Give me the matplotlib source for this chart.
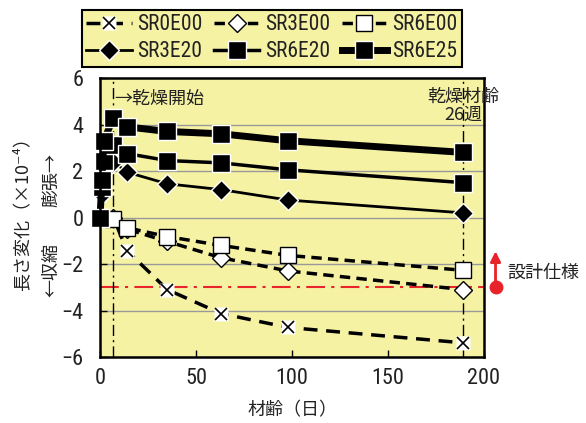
import matplotlib
matplotlib.use("Agg")
import matplotlib.pyplot as plt
from matplotlib.legend_handler import HandlerTuple

# ---- data ----
days_early = [0, 1, 2, 7, 14, 35, 63, 98, 189]
sr6e25 = [0, 1.6, 3.3, 4.3, 3.9, 3.7, 3.6, 3.3, 2.8]
sr6e20 = [0, 1.3, 2.45, 3.1, 2.75, 2.45, 2.35, 2.05, 1.5]
sr3e20 = [0, 1.0, 2.0, 2.4, 1.95, 1.45, 1.2, 0.75, 0.2]

days = [0, 7, 14, 35, 63, 98, 189]
sr0e00 = [0, 0, -1.42, -3.1, -4.13, -4.73, -5.39]
sr3e00 = [0, 0, -0.5, -1.03, -1.73, -2.3, -3.1]
sr6e00 = [0, -0.05, -0.44, -0.82, -1.2, -1.63, -2.27]

spec_value = -3.0
drying_start = 7
drying_end = 189
xticks = [0, 50, 100, 150, 200]
yticks = [-6, -4, -2, 0, 2, 4, 6]

NUM = ['Roboto Condensed', 'Noto Sans CJK JP', 'DejaVu Sans']
CJK = ['Noto Sans CJK JP', 'DejaVu Sans']
plt.rcParams['font.family'] = NUM

YEL = '#F6F2A4'
RED = '#E8232B'
TXT = '#222222'

fig = plt.figure(figsize=(5.86, 4.23), dpi=100)
ax = fig.add_axes([100/586, 1-357/423, 384/586, 279/423])
ax.set_facecolor(YEL)
ax.set_xlim(0, 200)
ax.set_ylim(-6, 6)

for y in [-4, -2, 0, 2, 4]:
    ax.axhline(y, color='#999999', lw=1.0, zorder=1)
ax.axhline(spec_value, color=RED, lw=1.5, ls=(0, (9, 3, 1.5, 3)), zorder=2)
ax.axvline(drying_start, color='k', lw=1.0, ls=(0, (8, 3, 1.5, 3)), zorder=2)
ax.axvline(drying_end, color='k', lw=1.0, ls=(0, (8, 3, 1.5, 3)), zorder=2)

# dashed series
l0, = ax.plot(days, sr0e00, color='k', lw=2.5, ls=(0, (4, 2.5)), zorder=3)
w0, = ax.plot(days, sr0e00, ls='none', marker='s', ms=10, mfc='white', mec='none',
              zorder=3.1, clip_on=False)
x0, = ax.plot(days, sr0e00, ls='none', marker='x', ms=8, mec='k', mew=1.2,
              zorder=3.2, clip_on=False)

l3, = ax.plot(days, sr3e00, color='k', lw=2.5, ls=(0, (3, 1.8)), marker='D', ms=9,
              mfc='white', mec='k', mew=1.0, zorder=4, clip_on=False)
l6, = ax.plot(days, sr6e00, color='k', lw=2.5, ls=(0, (3, 1.8)), marker='s', ms=11,
              mfc='white', mec='k', mew=1.0, zorder=4.5, clip_on=False)

# solid series
s3, = ax.plot(days_early, sr3e20, color='k', lw=2.0, marker='D', ms=10,
              mfc='k', mec='white', mew=1.0, zorder=6, clip_on=False)
s6, = ax.plot(days_early, sr6e20, color='k', lw=2.5, marker='s', ms=13,
              mfc='k', mec='white', mew=1.0, zorder=7, clip_on=False)
s25, = ax.plot(days_early, sr6e25, color='k', lw=5.0, marker='s', ms=13,
               mfc='k', mec='white', mew=1.0, zorder=8, clip_on=False)

for sp in ax.spines.values():
    sp.set_linewidth(1.8)
    sp.set_zorder(10)

ax.set_xticks(xticks)
ax.set_yticks(yticks)
ax.set_xticklabels([str(v) for v in xticks])
ax.set_yticklabels([str(v).replace('-', '\u2212') for v in yticks])
ax.tick_params(direction='in', length=5, width=1, labelsize=16, labelcolor=TXT)
ax.tick_params(axis='x', pad=8)
ax.tick_params(axis='y', pad=12)

ax.set_xlabel('材齢（日）', family=CJK, fontsize=13, labelpad=9, color=TXT)

fig.text(22/586, 1-210/423, '長さ変化（×10⁻⁴）', rotation=90, family=CJK,
         fontsize=13, ha='center', va='center', color=TXT)
fig.text(51/586, 1-207/423, '膨張→', rotation=90, family=CJK,
         fontsize=13, ha='center', va='bottom', color=TXT)
fig.text(51/586, 1-243/423, '←収縮', rotation=90, family=CJK,
         fontsize=13, ha='center', va='top', color=TXT)

ax.text(drying_start + 0.3, 5.1, '→乾燥開始', family=CJK, fontsize=13,
        ha='left', va='center', zorder=11, color=TXT)
ax.text(189, 4.8, '乾燥材齢\n26週', family=CJK, fontsize=13, ha='center',
        va='center', linespacing=1.0, zorder=11, clip_on=False, color=TXT)

ax.annotate('', xy=(206, -1.45), xytext=(206, -3.0), annotation_clip=False,
            arrowprops=dict(arrowstyle='-|>,head_length=0.6,head_width=0.3',
                            color=RED, lw=2, shrinkA=0, shrinkB=0))
ax.plot([206], [spec_value], 'o', color=RED, ms=9, clip_on=False, zorder=12)
ax.text(212, -2.4, '設計仕様', family=CJK, fontsize=13, ha='left',
        va='center', clip_on=False, color=TXT)

# legend (column-major order for 3 columns x 2 rows)
handles = [(l0, w0, x0), s3, l3, s6, l6, s25]
labels = ['SR0E00', 'SR3E20', 'SR3E00', 'SR6E20', 'SR6E00', 'SR6E25']
leg = fig.legend(handles, labels, ncol=3, loc='upper left',
                 bbox_to_anchor=(82/586, 1-10/423),
                 handler_map={tuple: HandlerTuple(ndivide=1, pad=0)},
                 prop={'family': NUM, 'size': 15.5}, handlelength=2.1,
                 handletextpad=0.25, columnspacing=0.55, borderpad=0.2,
                 labelspacing=0.28, fancybox=False, framealpha=1,
                 facecolor=YEL, edgecolor='k', borderaxespad=0)
leg.get_frame().set_linewidth(1.5)
for t in leg.get_texts():
    t.set_color(TXT)

fig.savefig('out.png', dpi=100)
